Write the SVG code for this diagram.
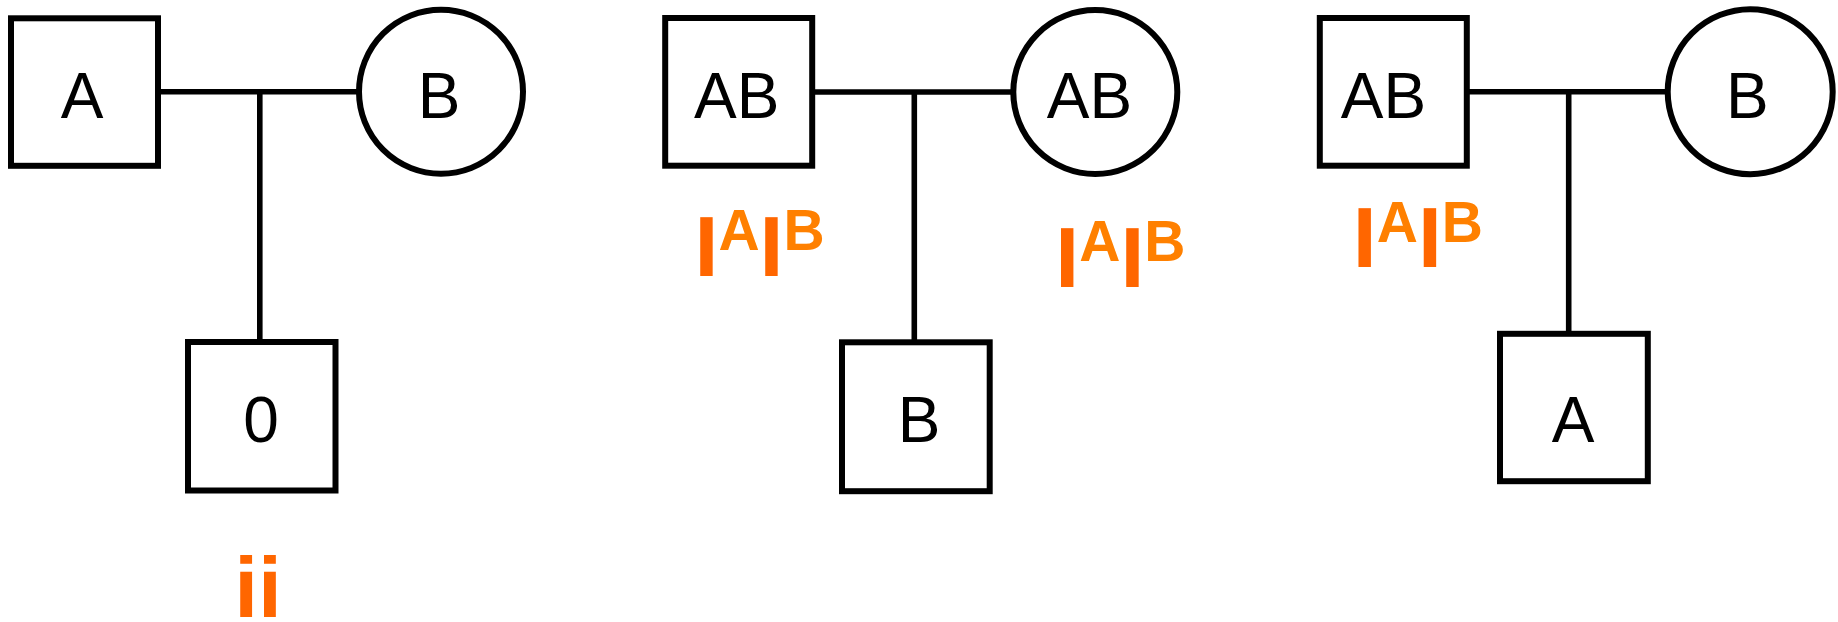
<svg xmlns="http://www.w3.org/2000/svg" width="1838" height="622" viewBox="0 0 1838 622">
<style>
.shape{fill:#fff;stroke:#000;stroke-width:6}
.conn line{stroke:#000;stroke-width:5.6}
.lbl{font-family:"Liberation Sans",Arial,sans-serif;font-size:64px;fill:#000;text-anchor:middle}
.geno{font-family:"Liberation Sans",Arial,sans-serif;font-weight:bold;fill:#FF6600}
.big{font-size:86px;fill:#FF6600}
.sup{font-size:57px;fill:#FF8000}
</style>
<g id="connectors" class="conn">
<line x1="158" y1="91.7" x2="359" y2="91.7"/>
<line x1="259.8" y1="91.7" x2="259.8" y2="342"/>
<line x1="812" y1="92" x2="1013" y2="92"/>
<line x1="914.3" y1="92" x2="914.3" y2="342"/>
<line x1="1467" y1="91.7" x2="1668" y2="91.7"/>
<line x1="1568.7" y1="91.7" x2="1568.7" y2="341"/>
</g>
<g id="p1-father"><rect class="shape" x="11" y="18.3" width="147" height="147.5"/><text class="lbl" x="82" y="117.7">A</text></g>
<g id="p1-mother"><circle class="shape" cx="441" cy="91.7" r="82"/><text class="lbl" x="439" y="117.7">B</text></g>
<g id="p1-child"><rect class="shape" x="188" y="342" width="147.5" height="148.5"/><text class="lbl" x="261" y="442">0</text></g>
<g id="p1-geno"><text class="geno" x="234.2" y="617" font-size="86">ii</text></g>
<g id="p2-father"><rect class="shape" x="665.2" y="18" width="147" height="147.7"/><text class="lbl" x="736.8" y="117.7">AB</text></g>
<g id="p2-mother"><circle class="shape" cx="1095.3" cy="92" r="82"/><text class="lbl" x="1089.5" y="117.7">AB</text></g>
<g id="p2-child"><rect class="shape" x="842" y="342.3" width="147.7" height="148.9"/><text class="lbl" x="919" y="441.7">B</text></g>
<g id="p2-geno-left"><text class="geno" x="694.5" y="276"><tspan class="big">I</tspan><tspan class="sup" dy="-26">A</tspan><tspan class="big" dy="26">I</tspan><tspan class="sup" dy="-26">B</tspan></text></g>
<g id="p2-geno-right"><text class="geno" x="1055.3" y="286.7"><tspan class="big">I</tspan><tspan class="sup" dy="-26">A</tspan><tspan class="big" dy="26">I</tspan><tspan class="sup" dy="-26">B</tspan></text></g>
<g id="p3-father"><rect class="shape" x="1319.8" y="18" width="147" height="147.7"/><text class="lbl" x="1383.5" y="117.7">AB</text></g>
<g id="p3-mother"><circle class="shape" cx="1750.2" cy="91.7" r="82.5"/><text class="lbl" x="1747.4" y="117.7">B</text></g>
<g id="p3-child"><rect class="shape" x="1500" y="333.8" width="147.8" height="147.4"/><text class="lbl" x="1573" y="441.7">A</text></g>
<g id="p3-geno"><text class="geno" x="1352.8" y="266.7"><tspan class="big">I</tspan><tspan class="sup" dy="-25">A</tspan><tspan class="big" dy="25">I</tspan><tspan class="sup" dy="-25">B</tspan></text></g>
</svg>
